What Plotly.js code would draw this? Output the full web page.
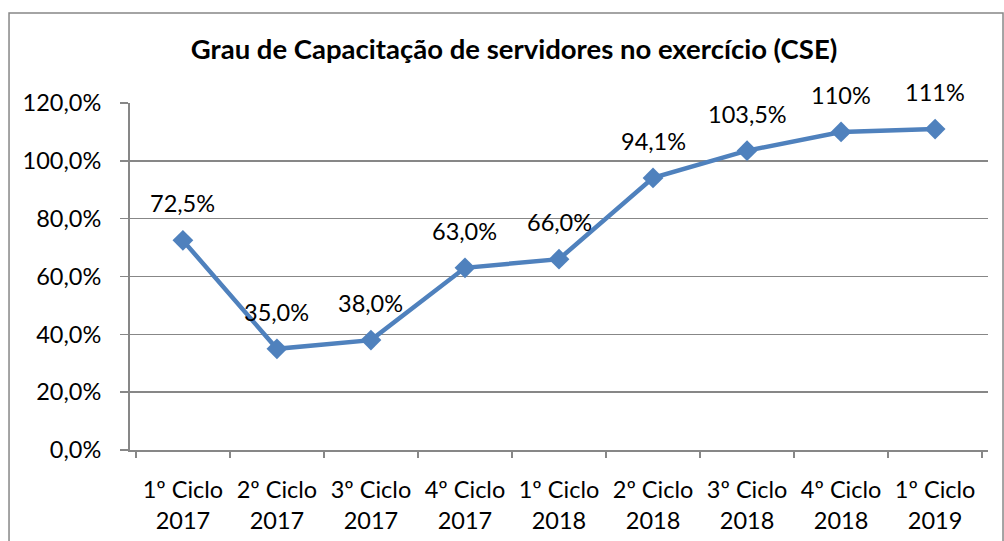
<!DOCTYPE html>
<html><head><meta charset="utf-8">
<script src="https://cdn.plot.ly/plotly-3.0.1.min.js"></script>
<style>html,body{margin:0;padding:0;background:#fff}#chart{width:1004px;height:541px}</style>
</head><body><div id="chart"></div>
<script>
const categories = ["1º Ciclo<br>2017","2º Ciclo<br>2017","3º Ciclo<br>2017","4º Ciclo<br>2017","1º Ciclo<br>2018","2º Ciclo<br>2018","3º Ciclo<br>2018","4º Ciclo<br>2018","1º Ciclo<br>2019"];
const values = [72.5, 35.0, 38.0, 63.0, 66.0, 94.1, 103.5, 110, 111];
const valueLabels = ["72,5%","35,0%","38,0%","63,0%","66,0%","94,1%","103,5%","110%","111%"];
const yTickVals = [0,20,40,60,80,100,120];
const yTickText = ["0,0%","20,0%","40,0%","60,0%","80,0%","100,0%","120,0%"];
const FONT = "Lato, 'Open Sans', sans-serif";
const grey = "#878787";

const trace = {
  x: categories, y: values, type: "scatter", mode: "lines+markers",
  line: {color: "#4F81BD", width: 4.5},
  marker: {symbol: "diamond", size: 16, color: "#4F81BD"},
  hoverinfo: "none", cliponaxis: false
};
const annotations = categories.map((c, i) => ({
  x: c, y: values[i], xref: "x", yref: "y", text: valueLabels[i],
  showarrow: false, yshift: 37, xanchor: "center", yanchor: "middle",
  font: {family: FONT, size: 23.5, color: "#000"}
}));
const layout = {
  width: 1004, height: 541,
  margin: {l: 130, r: 16, t: 103, b: 91},
  paper_bgcolor: "#fff", plot_bgcolor: "#fff",
  showlegend: false,
  title: {text: "<b>Grau de Capacitação de servidores no exercício (CSE)</b>",
    font: {family: FONT, size: 27.5, color: "#000"}, x: 0.512, xanchor: "center", y: 0.908, yanchor: "middle"},
  xaxis: {type: "category", tickson: "boundaries", ticks: "outside", ticklen: 6, tickwidth: 2, tickcolor: grey,
    showline: true, linecolor: grey, linewidth: 2, showgrid: false, zeroline: false, ticklabelstandoff: 18,
    tickfont: {family: FONT, size: 23.5, color: "#000"}, fixedrange: true},
  yaxis: {range: [0, 120], tickvals: yTickVals, ticktext: yTickText, ticks: "outside", ticklen: 8,
    tickwidth: 1.5, tickcolor: grey, showline: true, linecolor: grey, linewidth: 2,
    showgrid: true, gridcolor: grey, gridwidth: 1.5, zeroline: false, ticklabelstandoff: 14,
    tickfont: {family: FONT, size: 23.5, color: "#000"}, fixedrange: true},
  annotations: annotations,
  shapes: [{type: "rect", xref: "paper", yref: "paper", x0: -0.141, x1: 1.0175, y0: -0.3, y1: 1.2594,
    line: {color: grey, width: 1.5}, fillcolor: "rgba(0,0,0,0)", layer: "below"}]
};
Plotly.newPlot("chart", [trace], layout, {displayModeBar: false, staticPlot: true});
</script></body></html>
